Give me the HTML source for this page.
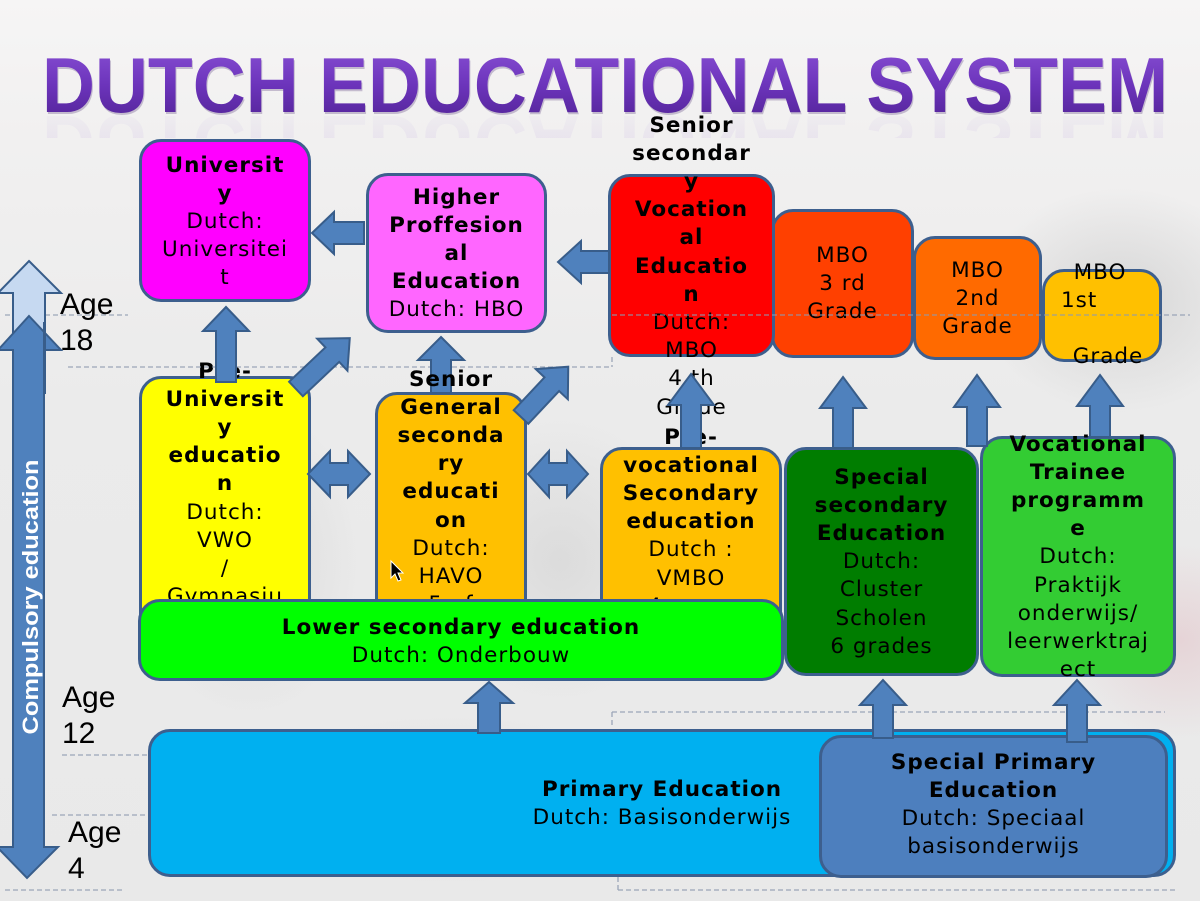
<!DOCTYPE html>
<html><head><meta charset="utf-8">
<style>
html,body{margin:0;padding:0;}
body{width:1200px;height:901px;overflow:hidden;}
#c{position:relative;width:1200px;height:901px;overflow:hidden;
background:
radial-gradient(ellipse 160px 220px at 250px 560px, rgba(190,190,190,0.35), rgba(190,190,190,0) 70%),
radial-gradient(ellipse 200px 160px at 1120px 300px, rgba(170,170,170,0.35), rgba(170,170,170,0) 70%),
radial-gradient(ellipse 180px 200px at 560px 560px, rgba(185,185,185,0.3), rgba(185,185,185,0) 70%),
radial-gradient(ellipse 160px 140px at 1180px 640px, rgba(220,160,170,0.3), rgba(220,160,170,0) 70%),
radial-gradient(ellipse 300px 120px at 450px 800px, rgba(200,200,200,0.35), rgba(200,200,200,0) 70%),
linear-gradient(#f6f5f5 0px,#f1f0f0 140px,#ebebeb 400px,#e9e9e9 901px);}
.b{position:absolute;box-sizing:border-box;border:3px solid #3d5f8e;border-radius:22px;}
.t{position:absolute;text-align:center;font-family:"DejaVu Sans",sans-serif;font-size:21.5px;line-height:28.2px;letter-spacing:1px;color:#000;white-space:nowrap;}
.t b{font-weight:bold;}
.age{position:absolute;font-family:"Liberation Sans",sans-serif;font-size:30px;line-height:36px;color:#000;}
svg{position:absolute;left:0;top:0;}
</style></head><body><div id="c">

<!-- title -->
<svg width="1200" height="160" viewBox="0 0 1200 160">
<defs>
<linearGradient id="tg" x1="0" y1="0" x2="0" y2="1">
<stop offset="0" stop-color="#8b52d6"/><stop offset="0.5" stop-color="#6c34bb"/><stop offset="1" stop-color="#4f2192"/>
</linearGradient>
<linearGradient id="rg" x1="0" y1="0" x2="0" y2="1">
<stop offset="0" stop-color="#7a45c4" stop-opacity="0.15"/><stop offset="1" stop-color="#7a45c4" stop-opacity="0"/>
</linearGradient>
<clipPath id="rc"><rect x="0" y="114" width="1200" height="24"/></clipPath>
</defs>
<g clip-path="url(#rc)">
<text x="42" y="116" transform="translate(0,232) scale(1,-1)" font-family="Liberation Sans, sans-serif" font-weight="bold" font-size="78" textLength="1126" lengthAdjust="spacingAndGlyphs" fill="url(#rg)">DUTCH EDUCATIONAL SYSTEM</text>
</g>
<text x="43" y="114" font-family="Liberation Sans, sans-serif" font-weight="bold" font-size="78" textLength="1126" lengthAdjust="spacingAndGlyphs" fill="#3a1a66" opacity="0.25">DUTCH EDUCATIONAL SYSTEM</text>
<text x="42" y="112" font-family="Liberation Sans, sans-serif" font-weight="bold" font-size="78" textLength="1126" lengthAdjust="spacingAndGlyphs" fill="url(#tg)">DUTCH EDUCATIONAL SYSTEM</text>
</svg>

<!-- top row boxes -->
<div class="b" style="left:139px;top:139px;width:172px;height:163px;background:#ff00ff;"></div>
<div class="t" style="left:139px;top:151.5px;width:172px;"><b>Universit<br>y</b><br>Dutch:<br>Universitei<br>t</div>

<div class="b" style="left:366px;top:173px;width:181px;height:160px;background:#ff66ff;"></div>
<div class="t" style="left:366px;top:183.5px;width:181px;"><b>Higher<br>Proffesion<br>al<br>Education</b><br>Dutch: HBO</div>

<div class="b" style="left:1042px;top:269px;width:120px;height:93px;background:#ffc000;"></div>
<div class="b" style="left:913px;top:236px;width:129px;height:124px;background:#ff6a00;"></div>
<div class="b" style="left:771px;top:209px;width:143px;height:149px;background:#ff4000;"></div>
<div class="b" style="left:608px;top:174px;width:167px;height:183px;background:#ff0000;"></div>

<div class="t" style="left:771px;top:241.5px;width:143px;">MBO<br>3 rd<br>Grade</div>
<div class="t" style="left:913px;top:256.5px;width:129px;">MBO<br>2nd<br>Grade</div>
<div class="t" style="left:1072px;top:258.5px;width:56px;">MBO</div>
<div class="t" style="left:1061px;top:286.7px;text-align:left;">1st</div>
<div class="t" style="left:1070px;top:343px;width:76px;">Grade</div>
<div class="t" style="left:608px;top:111.5px;width:167px;"><b>Senior<br>secondar<br>y<br>Vocation<br>al<br>Educatio<br>n</b><br>Dutch:<br>MBO<br>4 th<br>Grade</div>

<!-- middle row -->
<div class="b" style="left:139px;top:376px;width:172px;height:270px;background:#ffff00;"></div>
<div class="t" style="left:139px;top:357.5px;width:172px;"><b>Pre-<br>Universit<br>y<br>educatio<br>n</b><br>Dutch:<br>VWO<br>/<br>Gymnasiu<br>m</div>

<div class="b" style="left:375px;top:392px;width:152px;height:254px;background:#ffc000;"></div>
<div class="t" style="left:375px;top:393.7px;width:152px;"><b>General<br>seconda<br>ry<br>educati<br>on</b><br>Dutch:<br>HAVO<br>5 of</div>

<div class="b" style="left:600px;top:447px;width:182px;height:200px;background:#ffc000;"></div>
<div class="t" style="left:600px;top:423.5px;width:182px;"><b>Pre-<br>vocational<br>Secondary<br>education</b><br>Dutch :<br>VMBO<br>4 years</div>

<div class="b" style="left:138px;top:599px;width:646px;height:82px;background:#00ff00;"></div>
<div class="t" style="left:138px;top:613.5px;width:646px;"><b>Lower secondary education</b><br>Dutch: Onderbouw</div>

<div class="b" style="left:784px;top:447px;width:195px;height:229px;background:#007d00;"></div>
<div class="t" style="left:784px;top:463.5px;width:195px;"><b>Special<br>secondary<br>Education</b><br>Dutch:<br>Cluster<br>Scholen<br>6 grades</div>

<div class="b" style="left:980px;top:436px;width:196px;height:241px;background:#33cc33;"></div>
<div class="t" style="left:980px;top:430.5px;width:196px;"><b>Vocational<br>Trainee<br>programm<br>e</b><br>Dutch:<br>Praktijk<br>onderwijs/<br>leerwerktraj<br>ect</div>

<!-- bottom -->
<div class="b" style="left:148px;top:729px;width:1028px;height:148px;background:#00b0f0;"></div>
<div class="t" style="left:148px;top:775.5px;width:1028px;"><b>Primary Education</b><br>Dutch: Basisonderwijs</div>

<div class="b" style="left:819px;top:735px;width:349px;height:143px;background:#4d7fbe;"></div>
<div class="t" style="left:819px;top:748.5px;width:349px;"><b>Special Primary<br>Education</b><br>Dutch: Speciaal<br>basisonderwijs</div>

<!-- dashed lines + arrows -->
<svg width="1200" height="901" viewBox="0 0 1200 901">
<g stroke="#8e9ab0" stroke-width="1.3" stroke-dasharray="5 3" fill="none" opacity="0.85">
<line x1="5" y1="315" x2="128" y2="315"/>
<line x1="612" y1="315" x2="1190" y2="315"/>
<line x1="68" y1="367" x2="612" y2="367"/>
<line x1="612" y1="357" x2="612" y2="367"/>
<line x1="62" y1="755" x2="148" y2="755"/>
<line x1="52" y1="815" x2="148" y2="815"/>
<line x1="5" y1="890" x2="125" y2="890"/>
<line x1="612" y1="712" x2="1165" y2="712"/>
<line x1="612" y1="712" x2="612" y2="728"/>
<line x1="618" y1="877" x2="618" y2="890"/>
<line x1="618" y1="890" x2="1175" y2="890"/>
</g>
<g fill="#4f81bd" stroke="#385d8a" stroke-width="2" stroke-linejoin="miter">
<!-- compulsory -->
<polygon fill="#c6d9f1" points="29,261 61,293 45,293 45,340 13,340 13,293 -2,293"/>
<polygon points="29,316 61,350 44,350 44,847 58,847 27,878 -3,847 13,847 13,350 -2,350"/>
<!-- up arrows -->
<polygon points="226,307 249,331 236,331 236,382 216,382 216,331 203,331"/>
<polygon points="441,337 464,360 451,360 451,393 431,393 431,360 418,360"/>
<polygon points="691,374 714,405 701,405 701,448 681,448 681,405 668,405"/>
<polygon points="843,377 866,408 853,408 853,448 833,448 833,408 820,408"/>
<polygon points="977,375 1000,407 987,407 987,446 967,446 967,407 954,407"/>
<polygon points="1100,375 1123,406 1110,406 1110,437 1090,437 1090,406 1077,406"/>
<polygon points="489,682 513,703 500,703 500,733 478,733 478,703 465,703"/>
<polygon points="883,680 906,705 893,705 893,738 873,738 873,705 860,705"/>
<polygon points="1077,680 1100,705 1087,705 1087,742 1067,742 1067,705 1054,705"/>
<!-- left arrows -->
<polygon points="312,233 334,212 334,222 364,222 364,244 334,244 334,254"/>
<polygon points="558,262 581,241 581,251 609,251 609,273 581,273 581,283"/>
<!-- double arrows -->
<polygon points="308,474 330,451 330,463 348,463 348,451 370,474 348,497 348,485 330,485 330,497"/>
<polygon points="528,474 549,451 549,463 567,463 567,451 588,474 567,497 567,485 549,485 549,497"/>
<!-- diagonals -->
<polygon transform="translate(296,389) rotate(-43.4)" points="0,-10 50,-10 50,-22 74,0 50,22 50,10 0,10"/>
<polygon transform="translate(521,417) rotate(-46.8)" points="0,-10 45,-10 45,-22 69,0 45,22 45,10 0,10"/>
</g>
<rect x="43" y="322" width="3" height="72" fill="#385d8a"/>
<text transform="translate(38,597) rotate(-90)" text-anchor="middle" font-family="Liberation Sans, sans-serif" font-weight="bold" font-size="22" fill="#ffffff" textLength="275" lengthAdjust="spacingAndGlyphs">Compulsory education</text>
<!-- cursor -->
<polygon points="391,561 391,578 395,574 398,581 401,580 398,573 403,573" fill="#000" stroke="#fff" stroke-width="1"/>
</svg>

<div class="t" style="left:375px;top:365.5px;width:152px;"><b>Senior</b></div>

<div class="age" style="left:60px;top:287px;">Age<br>18</div>
<div class="age" style="left:62px;top:680px;">Age<br>12</div>
<div class="age" style="left:68px;top:815px;">Age<br>4</div>

</div></body></html>
